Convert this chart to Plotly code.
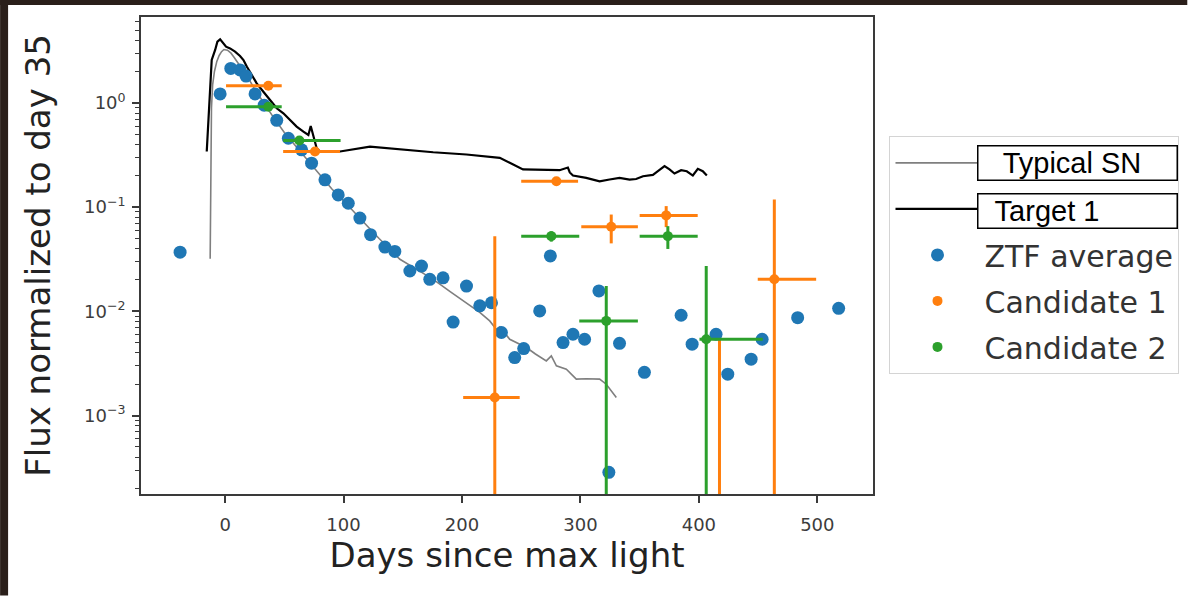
import plotly.graph_objects as go

# ---------------- data ----------------
typ_days = [-12.6, -12.2, -11.5, -10.5, -9, -7, -5, -3, -1, 2, 5, 8, 12, 16, 20, 25, 30, 40, 50,
            60, 70, 80, 90, 100, 110, 120, 130, 140, 147.6, 160, 175.7, 190, 203.8, 215, 223.4,
            229, 232, 240.3, 254.4, 262, 271.2, 275.4, 279.7, 288.1, 296.5, 305, 316.2, 321.8, 330.3]
typ_flux = [0.032, 0.3, 0.9, 1.5, 2.0, 2.5, 2.85, 3.1, 3.25, 3.2, 3.0, 2.7, 2.3, 2.0, 1.7, 1.35,
            1.1, 0.75, 0.52, 0.38, 0.28, 0.2, 0.15, 0.115, 0.088, 0.066, 0.05, 0.039, 0.0316,
            0.026, 0.0203, 0.0155, 0.0121, 0.0098, 0.0081, 0.0067, 0.0071, 0.0054, 0.0045, 0.0039,
            0.00335, 0.00374, 0.003, 0.00279, 0.00224, 0.00226, 0.00224, 0.002, 0.00149]

t1_days = [-15.5, -14.1, -12.7, -11.3, -8.4, -6.5, -4.2, -1.4, 0.8, 4.2, 8.4, 12.6, 15.5, 18.3,
           22.5, 26.7, 32.3, 38, 43.6, 49.2, 54.8, 60.4, 66.1, 70.3, 72.3, 74.5, 77.3, 80.1, 97,
           122.3, 147.6, 175.7, 203.8, 231.9, 240.3, 251.5, 282.4, 289.4, 291, 293.7, 304.9,
           316.2, 324.6, 333, 341.5, 347, 352.8, 361.2, 365.4, 371, 375.2, 379.4, 385, 389.8,
           394.9, 399.1, 403.3, 406.7]
t1_flux = [0.342, 0.74, 1.54, 2.58, 3.22, 3.87, 4.07, 3.72, 3.46, 3.33, 3.1, 2.82, 2.58, 2.23,
           1.85, 1.54, 1.28, 1.07, 0.888, 0.795, 0.687, 0.593, 0.531, 0.493, 0.6, 0.475, 0.367,
           0.342, 0.342, 0.381, 0.357, 0.336, 0.32, 0.297, 0.266, 0.23, 0.226, 0.24, 0.215, 0.201,
           0.191, 0.177, 0.184, 0.191, 0.184, 0.186, 0.198, 0.204, 0.221, 0.247, 0.23, 0.21,
           0.226, 0.221, 0.201, 0.233, 0.221, 0.201]

ztf_days = [-38, -4.2, 4.8, 12.6, 17.7, 25.3, 33, 43.6, 53.4, 64.6, 73, 84.3, 95.5, 104, 113.8,
            122.8, 134.9, 143.3, 156, 165.8, 172.8, 184, 192.5, 203.8, 215, 224.9, 233.3, 244.5,
            252.1, 265.6, 274.6, 285.3, 293.7, 303.5, 315.6, 324, 333, 354, 385, 394.3, 414.5,
            424.4, 444.1, 453.4, 483.4, 518]
ztf_flux = [0.037, 1.22, 2.14, 2.07, 1.81, 1.22, 0.95, 0.68, 0.458, 0.355, 0.264, 0.183, 0.131,
            0.109, 0.0785, 0.0544, 0.0414, 0.0376, 0.0244, 0.0272, 0.0203, 0.021, 0.0079, 0.0175,
            0.0113, 0.0121, 0.00627, 0.0036, 0.0044, 0.0101, 0.034, 0.00502, 0.00603, 0.0054,
            0.0157, 0.000286, 0.00494, 0.0026, 0.00918, 0.00484, 0.00603, 0.0025, 0.00348,
            0.0054, 0.0087, 0.0107]

c1_days = [36.5, 75.9, 227.7, 279.7, 326, 372.4, 417.4, 463.7]
c1_flux = [1.46, 0.342, 0.00149, 0.177, 0.0649, 0.0833, 0.0001, 0.0203]
c1_ferr = [0.12, 0.03, 0.0512, 0.01, 0.02, 0.019, 0.0054, 0.098]
c1_lo = [0.8, 49, 201, 250, 300.7, 350, 400, 449.7]
c1_hi = [47.8, 97, 248.7, 298, 348.5, 399, 454, 499]

c2_days = [36.5, 62.7, 275.4, 321.8, 373.8, 406.2]
c2_flux = [0.92, 0.435, 0.0527, 0.0081, 0.0527, 0.0054]
c2_ferr = [0.06, 0.04, 0.006, 0.0094, 0.013, 0.0218]
c2_lo = [0.8, 49, 250, 299, 350, 400.5]
c2_hi = [47.8, 97.5, 299, 348.5, 399, 453.9]

x_ticks = [0, 100, 200, 300, 400, 500]
y_ticks = [1e-3, 1e-2, 1e-1, 1]
y_ticktext = ["10<sup>\u22123</sup>", "10<sup>\u22122</sup>", "10<sup>\u22121</sup>", "10<sup>0</sup>"]
y_minor = [k * 10.0 ** e for e in range(-4, 1) for k in range(2, 10)]

labels = ["Typical SN", "Target 1", "ZTF average", "Candidate 1", "Candidate 2"]

# ---------------- layout geometry ----------------
W, H = 1188, 596
L, R, T, B = 141, 873.5, 17, 494.5
PW, PH = R - L, B - T


def px(xp):
    return (xp - L) / PW


def py(yp):
    return (B - yp) / PH


def yerr(flux, err, color):
    minus = [e if f - e > 0 else f * (1 - 1e-7) for f, e in zip(flux, err)]
    return dict(type="data", array=err, arrayminus=minus, thickness=3, width=0, color=color)


def xerr(days, lo, hi, color):
    return dict(type="data", array=[h - d for d, h in zip(days, hi)],
                arrayminus=[d - l for d, l in zip(days, lo)], thickness=3, width=0, color=color)


BLUE, ORANGE, GREEN = "#1f77b4", "#ff7f0e", "#2ca02c"

fig = go.Figure()
fig.add_trace(go.Scatter(x=typ_days, y=typ_flux, mode="lines", name=labels[0],
                         line=dict(color="#7f7f7f", width=1.6), legendgroup="a"))
fig.add_trace(go.Scatter(x=t1_days, y=t1_flux, mode="lines", name=labels[1],
                         line=dict(color="black", width=2.2), legendgroup="b"))
fig.add_trace(go.Scatter(x=ztf_days, y=ztf_flux, mode="markers", name=labels[2],
                         marker=dict(color=BLUE, size=13), legendgroup="c"))
fig.add_trace(go.Scatter(x=c1_days, y=c1_flux, mode="markers", name=labels[3],
                         marker=dict(color=ORANGE, size=10), legendgroup="d",
                         error_y=yerr(c1_flux, c1_ferr, ORANGE),
                         error_x=xerr(c1_days, c1_lo, c1_hi, ORANGE)))
fig.add_trace(go.Scatter(x=c2_days, y=c2_flux, mode="markers", name=labels[4],
                         marker=dict(color=GREEN, size=10), legendgroup="e",
                         error_y=yerr(c2_flux, c2_ferr, GREEN),
                         error_x=xerr(c2_days, c2_lo, c2_hi, GREEN)))

AX = "#3a3a3a"
TICKFONT = dict(family="DejaVu Sans", size=18, color="#3c3c3c")
TITLEFONT = dict(family="DejaVu Sans", size=34, color="#222222")

fig.update_layout(
    width=W, height=H,
    margin=dict(l=L, r=W - R, t=T, b=H - B, autoexpand=False),
    paper_bgcolor="white", plot_bgcolor="white",
    showlegend=True,
    legend=dict(x=px(890), y=py(136), xanchor="left", yanchor="top",
                bgcolor="white", bordercolor="#d4d4d4", borderwidth=1,
                font=dict(family="DejaVu Sans", size=30, color="#333333"),
                itemwidth=84, tracegroupgap=4, traceorder="grouped"),
    xaxis=dict(range=[-71, 547], tickmode="array", tickvals=x_ticks,
               ticks="outside", ticklen=7, tickwidth=1.5, tickcolor=AX,
               ticklabelstandoff=7,
               showline=True, linecolor=AX, linewidth=1.6, mirror=True,
               showgrid=False, zeroline=False, tickfont=TICKFONT,
               title=dict(text="Days since max light", font=TITLEFONT, standoff=9)),
    yaxis=dict(type="log", range=[-3.752, 0.824], tickmode="array", tickvals=y_ticks,
               ticktext=y_ticktext, ticks="outside", ticklen=7, tickwidth=1.5, tickcolor=AX,
               ticklabelstandoff=3,
               minor=dict(tickmode="array", tickvals=y_minor, ticks="outside", ticklen=4,
                          tickwidth=1, tickcolor=AX, showgrid=False),
               showline=True, linecolor=AX, linewidth=1.6, mirror=True,
               showgrid=False, zeroline=False, tickfont=TICKFONT,
               title=dict(text="Flux normalized to day 35", font=TITLEFONT, standoff=23)),
)

# boxed labels laid over the first two legend entries
BOXFONT = dict(family="Liberation Sans, Arial", size=29, color="black")
for txt, yc in [("\u00a0\u00a0\u00a0Typical SN", (145 + 182) / 2), ("\u00a0\u00a0Target 1", (193 + 229) / 2)]:
    fig.add_annotation(x=px(978), y=py(yc), xref="paper", yref="paper",
                       xanchor="left", yanchor="middle", showarrow=False, text=txt,
                       font=BOXFONT, bgcolor="white", bordercolor="black", borderwidth=1.5,
                       borderpad=0, width=198, height=33, align="left")

# dark slide background visible at the left and top edges
DARK = "#2a1f1a"
fig.add_shape(type="rect", xref="paper", yref="paper", x0=px(0), x1=px(8), y0=py(H), y1=py(0),
              fillcolor=DARK, line=dict(width=0), layer="above")
fig.add_shape(type="rect", xref="paper", yref="paper", x0=px(0), x1=px(W), y0=py(5), y1=py(0),
              fillcolor=DARK, line=dict(width=0), layer="above")

fig.write_html("out.html", config={"displayModeBar": False},
               post_script="document.body.style.margin='0';")
